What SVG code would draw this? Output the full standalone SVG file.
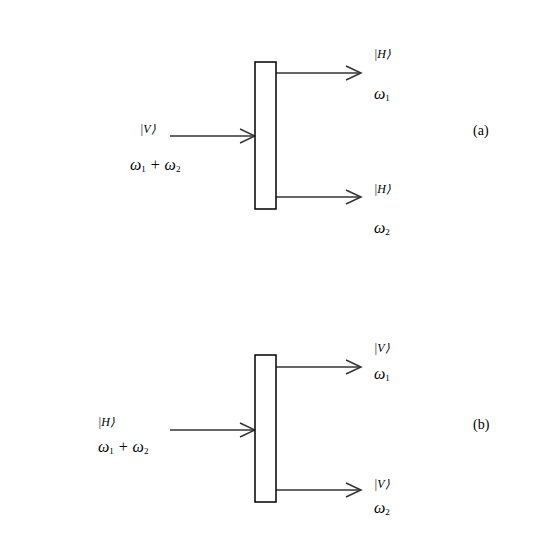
<svg xmlns="http://www.w3.org/2000/svg" width="545" height="556" viewBox="0 0 545 556">
<style>
.box{fill:#fff;stroke:#000;stroke-width:1.5}
.ar{stroke:#333;stroke-width:1.5;fill:none}
.t{font-family:'Times New Roman','Liberation Serif',Times,serif;font-style:italic;font-size:12px;fill:#000}
.w{font-family:'Times New Roman','Liberation Serif',Times,serif;font-style:italic;font-size:16px;fill:#000}
.s{font-size:9px;font-style:normal}
.l{font-family:'Times New Roman','Liberation Serif',Times,serif;font-size:14px;fill:#000}
</style>
<defs>
<marker id="ah" markerUnits="userSpaceOnUse" markerWidth="20" markerHeight="20" refX="16" refY="8" orient="auto" viewBox="0 0 20 16">
<path d="M1,1 L16,8 L1,15" fill="none" stroke="#333" stroke-width="1.5"/>
</marker>
</defs>
<g id="connectors">
<line class="ar" x1="170" y1="136" x2="255" y2="136" marker-end="url(#ah)"/>
<line class="ar" x1="276" y1="73" x2="361" y2="73" marker-end="url(#ah)"/>
<line class="ar" x1="276" y1="197" x2="361" y2="197" marker-end="url(#ah)"/>
<line class="ar" x1="170" y1="430" x2="255" y2="430" marker-end="url(#ah)"/>
<line class="ar" x1="276" y1="367" x2="361" y2="367" marker-end="url(#ah)"/>
<line class="ar" x1="276" y1="490" x2="361" y2="490" marker-end="url(#ah)"/>
</g>
<g id="splitter-a"><rect class="box" x="255" y="62" width="21" height="147"/></g>
<g id="splitter-b"><rect class="box" x="255" y="355" width="21" height="147"/></g>
<g id="labels-a">
<text class="t" x="140" y="133">|V⟩</text>
<text class="w" x="130" y="170">ω<tspan class="s" dy="2">1</tspan><tspan dy="-2"> + ω</tspan><tspan class="s" dy="2">2</tspan></text>
<text class="t" x="374" y="58">|H⟩</text>
<text class="w" x="374" y="99">ω<tspan class="s" dy="2">1</tspan></text>
<text class="t" x="374" y="193">|H⟩</text>
<text class="w" x="374" y="233">ω<tspan class="s" dy="2">2</tspan></text>
<text class="l" x="473" y="135">(a)</text>
</g>
<g id="labels-b">
<text class="t" x="98" y="426">|H⟩</text>
<text class="w" x="98" y="452">ω<tspan class="s" dy="2">1</tspan><tspan dy="-2"> + ω</tspan><tspan class="s" dy="2">2</tspan></text>
<text class="t" x="374" y="352">|V⟩</text>
<text class="w" x="374" y="379">ω<tspan class="s" dy="2">1</tspan></text>
<text class="t" x="374" y="488">|V⟩</text>
<text class="w" x="374" y="513">ω<tspan class="s" dy="2">2</tspan></text>
<text class="l" x="473" y="429">(b)</text>
</g>
</svg>
